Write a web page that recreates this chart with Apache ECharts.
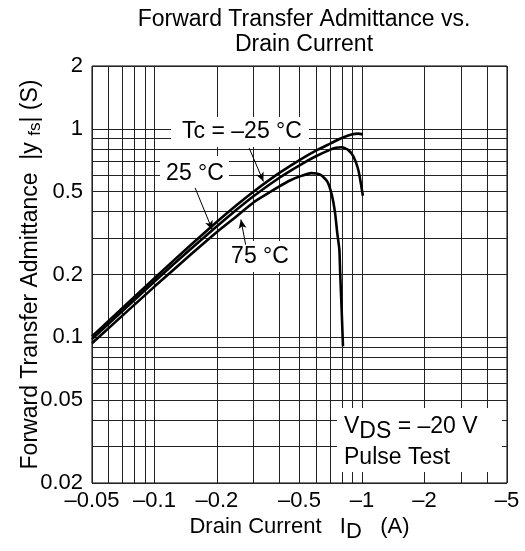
<!DOCTYPE html>
<html>
<head>
<meta charset="utf-8">
<script src="https://cdn.jsdelivr.net/npm/echarts@6/dist/echarts.min.js"></script>
<style>
  html, body { margin: 0; padding: 0; background: #fff; }
  #chart { width: 525px; height: 551px; }
</style>
</head>
<body>
<div id="chart"></div>
<script>
// gridlines / tick labels (magnitudes, drawn as negative currents)
var xGrid = [0.05, 0.06, 0.07, 0.08, 0.09, 0.1, 0.2, 0.3, 0.4, 0.5, 0.6, 0.7, 0.8, 0.9, 1, 2, 3, 4, 5]
var xLabels = [0.05, 0.1, 0.2, 0.5, 1, 2, 5]
var yGrid = [0.02, 0.03, 0.04, 0.05, 0.06, 0.07, 0.08, 0.09, 0.1, 0.2, 0.3, 0.4, 0.5, 0.6, 0.7, 0.8, 0.9, 1, 2]
var yLabels = [0.02, 0.05, 0.1, 0.2, 0.5, 1, 2]

// Tc = -25 °C
var idM25 = [0.05, 0.1, 0.15, 0.2, 0.25, 0.3, 0.4, 0.5, 0.6, 0.7, 0.8, 0.9, 0.96, 1.01]
var yfsM25 = [0.101, 0.192, 0.278, 0.358, 0.432, 0.499, 0.614, 0.708, 0.786, 0.847, 0.903, 0.941, 0.948, 0.94]
// Tc = 25 °C
var id25 = [0.05, 0.1, 0.15, 0.2, 0.25, 0.3, 0.4, 0.5, 0.6, 0.7, 0.75, 0.8, 0.86, 0.91, 0.96, 0.99, 1.01]
var yfs25 = [0.098, 0.185, 0.266, 0.341, 0.411, 0.475, 0.582, 0.668, 0.738, 0.792, 0.81, 0.815, 0.79, 0.736, 0.636, 0.54, 0.477]
// Tc = 75 °C
var id75 = [0.05, 0.1, 0.15, 0.2, 0.25, 0.3, 0.4, 0.45, 0.5, 0.57, 0.63, 0.68, 0.715, 0.742, 0.76, 0.778, 0.785, 0.798, 0.81]
var yfs75 = [0.0936, 0.175, 0.25, 0.32, 0.382, 0.443, 0.529, 0.565, 0.59, 0.613, 0.602, 0.559, 0.483, 0.395, 0.317, 0.264, 0.205, 0.136, 0.0906]

// label arrows [from, to] in (|ID|, |yfs|)
var arrows = [
  [[0.286, 0.808], [0.335, 0.559]],
  [[0.157, 0.52], [0.19, 0.328]],
  [[0.275, 0.278], [0.261, 0.367]]
]

var FONT = 'Liberation Sans, Arial, Helvetica, sans-serif'
var FS = 22
var lg = Math.log10
function fmt(v) {
  return String(parseFloat(Math.pow(10, v).toPrecision(2)))
}
function pts(xs, ys) {
  return xs.map(function(x, i) { return [lg(x), lg(ys[i])] })
}
function curve(name, xs, ys) {
  return {
    name: name,
    type: 'line',
    data: pts(xs, ys),
    showSymbol: false,
    smooth: 0.2,
    lineStyle: { color: '#000', width: 2.6 },
    z: 3
  }
}
function box(x, y, w, h) {
  return { type: 'rect', z: 1, shape: { x: x, y: y, width: w, height: h }, style: { fill: '#fff' } }
}
function label(x, y, text, align) {
  return {
    type: 'text', z: 2, x: x, y: y,
    style: {
      text: text, fill: '#000', font: '23px ' + FONT,
      align: align || 'center', verticalAlign: 'middle',
      rich: {
        a: { fontSize: 23, fontFamily: FONT },
        s: { fontSize: 23, fontFamily: FONT, padding: [10, 0, 0, 0] }
      }
    }
  }
}

var chart = echarts.init(document.getElementById('chart'))
var option = {
  animation: false,
  backgroundColor: '#fff',
  title: {
    text: 'Forward Transfer Admittance vs.\nDrain Current',
    left: 299,
    top: 2,
    textAlign: 'center',
    textStyle: { fontSize: 23, fontWeight: 'normal', color: '#000', fontFamily: FONT, lineHeight: 25 }
  },
  grid: { left: 92, right: 18, top: 66, bottom: 68, show: true, borderColor: '#000', borderWidth: 1 },
  xAxis: {
    type: 'value',
    min: lg(0.05),
    max: lg(5),
    name: 'Drain Current   I{s|D}   (A)',
    nameLocation: 'middle',
    nameGap: 28,
    nameMoveOverlap: false,
    nameTextStyle: {
      fontSize: FS, color: '#000', fontFamily: FONT,
      rich: { s: { fontSize: FS, fontFamily: FONT, padding: [10, 0, 0, 0] } }
    },
    axisLine: { show: false },
    axisTick: { show: false, customValues: xGrid.map(lg) },
    splitLine: { show: true, lineStyle: { color: '#222', width: 1 } },
    axisLabel: {
      customValues: xLabels.map(lg),
      formatter: function(v) { return '\u2013' + fmt(v) },
      fontSize: FS, color: '#000', fontFamily: FONT, margin: 7
    }
  },
  yAxis: {
    type: 'value',
    min: lg(0.02),
    max: lg(2),
    name: 'Forward Transfer Admittance  |y {s|fs}| (S)',
    nameLocation: 'middle',
    nameRotate: 90,
    nameGap: 48,
    nameMoveOverlap: false,
    nameTextStyle: {
      fontSize: 23, color: '#000', fontFamily: FONT,
      rich: { s: { fontSize: 17, fontFamily: FONT, padding: [9, 0, 0, 0] } }
    },
    axisLine: { show: false },
    axisTick: { show: false, customValues: yGrid.map(lg) },
    splitLine: { show: true, lineStyle: { color: '#222', width: 1 } },
    axisLabel: {
      customValues: yLabels.map(lg),
      formatter: function(v) { return fmt(v) },
      fontSize: FS, color: '#000', fontFamily: FONT, margin: 9
    }
  },
  series: [
    curve('-25', idM25, yfsM25),
    curve('25', id25, yfs25),
    curve('75', id75, yfs75),
    {
      type: 'line',
      data: [],
      z: 3,
      markLine: {
        silent: true,
        symbol: ['none', 'arrow'],
        symbolSize: [6, 9],
        label: { show: false },
        lineStyle: { color: '#000', width: 1, type: 'solid' },
        data: arrows.map(function(a) {
          return [{ coord: [lg(a[0][0]), lg(a[0][1])] }, { coord: [lg(a[1][0]), lg(a[1][1])] }]
        })
      }
    }
  ],
  graphic: [
    box(171, 117, 138, 30), label(242, 132, 'Tc = \u201325 \u00b0C'),
    box(160, 156, 69, 35), label(195, 174, '25 \u00b0C'),
    box(224, 241, 72, 31), label(260, 257, '75 \u00b0C'),
    box(337, 408, 165, 64),
    label(344, 427, '{a|V}{s|DS}{a| = \u201320 V}', 'left'),
    label(344, 458, 'Pulse Test', 'left')
  ]
}
chart.setOption(option)
</script>
</body>
</html>
